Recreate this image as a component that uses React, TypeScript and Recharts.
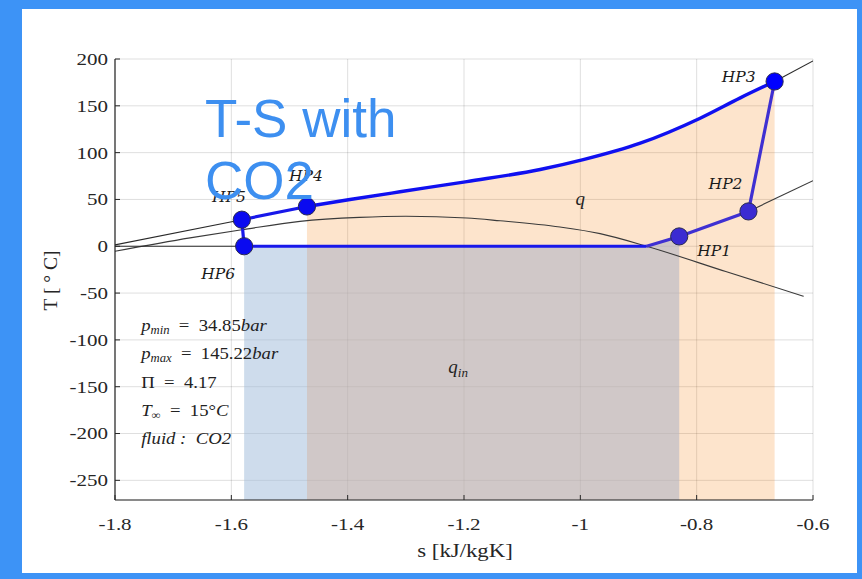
import React from 'react';
import {
  ComposedChart,
  XAxis,
  YAxis,
  CartesianGrid,
  Line,
  Area,
  Scatter,
  ReferenceDot,
} from 'recharts';

// ---------- axes ----------
const S_DOMAIN: [number, number] = [-1.8, -0.6];
const T_DOMAIN: [number, number] = [-271, 200];
const sTicks = [-1.8, -1.6, -1.4, -1.2, -1.0, -0.8, -0.6];
const sTickLabels = ['-1.8', '-1.6', '-1.4', '-1.2', '-1', '-0.8', '-0.6'];
const tTicks = [200, 150, 100, 50, 0, -50, -100, -150, -200, -250];
const tTickLabels = ['200', '150', '100', '50', '0', '-50', '-100', '-150', '-200', '-250'];

// ---------- cycle state points ----------
const cyclePoints = [
  { name: 'HP1', s: -0.83, T: 10.5 },
  { name: 'HP2', s: -0.711, T: 37.2 },
  { name: 'HP3', s: -0.666, T: 176 },
  { name: 'HP4', s: -1.47, T: 42.5 },
  { name: 'HP5', s: -1.582, T: 28.4 },
  { name: 'HP6', s: -1.578, T: 0 },
];

// high pressure isobar, HP4 -> HP3 (gas cooler)
const highPressureCurve = [
  { s: -1.47, T: 42.5 },
  { s: -1.396, T: 49.9 },
  { s: -1.31, T: 58.2 },
  { s: -1.195, T: 69.1 },
  { s: -1.069, T: 82.0 },
  { s: -0.995, T: 92.5 },
  { s: -0.897, T: 110.1 },
  { s: -0.794, T: 136.8 },
  { s: -0.725, T: 158.5 },
  { s: -0.666, T: 176 },
];

// cycle segments drawn straight
const cycleLeft = [
  { s: -1.47, T: 42.5 },
  { s: -1.582, T: 28.4 },
  { s: -1.578, T: 0 },
  { s: -0.886, T: 0 },
];
const cycleRight = [
  { s: -0.886, T: 0 },
  { s: -0.83, T: 10.5 },
  { s: -0.711, T: 37.2 },
  { s: -0.666, T: 176 },
];

// thin black reference curves
const highIsobarLeft = [
  { s: -1.8, T: 1.5 },
  { s: -1.582, T: 28.4 },
];
const highIsobarRight = [
  { s: -0.666, T: 176 },
  { s: -0.6, T: 198 },
];
const lowIsobarLeft = [
  { s: -1.8, T: 0 },
  { s: -1.578, T: 0 },
];
const lowIsobarRight = [
  { s: -0.711, T: 37.2 },
  { s: -0.6, T: 70 },
];
const saturationDome = [
  { s: -1.8, T: -5.3 },
  { s: -1.671, T: 9 },
  { s: -1.582, T: 17.6 },
  { s: -1.482, T: 26.6 },
  { s: -1.38, T: 30.8 },
  { s: -1.3, T: 32 },
  { s: -1.195, T: 30.2 },
  { s: -1.138, T: 27.2 },
  { s: -1.035, T: 20.5 },
  { s: -0.966, T: 13.5 },
  { s: -0.886, T: 0 },
  { s: -0.75, T: -27 },
  { s: -0.616, T: -53.4 },
];

// shaded heat areas
const heatOutArea = highPressureCurve; // q
const heatInBlueArea = [
  { s: -1.578, T: 0 },
  { s: -1.47, T: 0 },
];
const heatInGrayArea = [
  { s: -1.47, T: 0 },
  { s: -0.886, T: 0 },
  { s: -0.83, T: 10.5 },
];

// annotation anchors
const paramAnchorS = -1.755;
const paramLines = [
  { key: 'pmin', T: -90.7 },
  { key: 'pmax', T: -120.9 },
  { key: 'pi', T: -151.1 },
  { key: 'tinf', T: -181.3 },
  { key: 'fluid', T: -211.5 },
];
const qLabel = { s: -1.0, T: 44.4 };
const qInLabel = { s: -1.227, T: -135.8 };

// ---------- styles ----------
const FRAME_BLUE = '#3d93f6';
const TITLE_BLUE = '#3d8ff0';
const AXIS_COLOR = '#262626';
const SERIF = "'Liberation Serif', 'Times New Roman', serif";
const STRETCH = 1.2;
const pointFill: Record<string, string> = {
  HP1: '#3b2bd2',
  HP2: '#3b2bd2',
  HP3: '#0000ff',
  HP4: '#0a0af0',
  HP5: '#0a0af0',
  HP6: '#0a0af0',
};
const labelPlacement: Record<string, { dx: number; dy: number; anchor: string }> = {
  HP1: { dx: 18, dy: 20, anchor: 'start' },
  HP2: { dx: -6, dy: -22, anchor: 'end' },
  HP3: { dx: -19, dy: 1, anchor: 'end' },
  HP4: { dx: -1, dy: -25, anchor: 'middle' },
  HP5: { dx: 4, dy: -18, anchor: 'end' },
  HP6: { dx: -9, dy: 33, anchor: 'end' },
};

function getPos(props: any) {
  const vb = props && props.viewBox ? props.viewBox : props;
  const x = (vb.x ?? 0) + (vb.width ?? 0) / 2;
  const y = (vb.y ?? 0) + (vb.height ?? 0) / 2;
  return { x, y };
}

const makeTick = (values: number[], labels: string[]) => (props: any) => {
  const { x, y, payload, textAnchor, verticalAnchor } = props;
  const v = payload ? payload.value : 0;
  const idx = values.findIndex((t) => Math.abs(t - v) < 1e-9);
  const label = idx >= 0 ? labels[idx] : String(v);
  const dy = verticalAnchor === 'start' ? '0.71em' : verticalAnchor === 'middle' ? '0.34em' : '0';
  return (
    <text
      transform={`translate(${x},${y}) scale(${STRETCH},1)`}
      x={0}
      y={0}
      dy={dy}
      textAnchor={textAnchor}
      fontFamily={SERIF}
      fontSize={17.5}
      fill={AXIS_COLOR}
    >
      {label}
    </text>
  );
};
const sTick = makeTick(sTicks, sTickLabels);
const tTick = makeTick(tTicks, tTickLabels);

const makePointLabel = (name: string) => (props: any) => {
  const { x, y } = getPos(props);
  const p = labelPlacement[name];
  return (
    <text
      x={x + p.dx}
      y={y + p.dy}
      textAnchor={p.anchor as any}
      fontFamily="'DejaVu Serif', serif"
      fontStyle="italic"
      fontSize={15.5}
      fill="#1a1a1a"
    >
      {name}
    </text>
  );
};

const sub = { fontSize: 11.5, fontStyle: 'italic' as const };
const renderParam = (key: string) => (props: any) => {
  const { x, y } = getPos(props);
  const common = {
    x: 0,
    y: 0,
    transform: `translate(${x},${y}) scale(1.1,1)`,
    fontFamily: SERIF,
    fontSize: 17,
    fill: '#222',
  };
  if (key === 'pmin' || key === 'pmax') {
    const subText = key === 'pmin' ? 'min' : 'max';
    const val = key === 'pmin' ? '34.85' : '145.22';
    return (
      <text {...common}>
        <tspan fontStyle="italic">p</tspan>
        <tspan {...sub} dy={3}>{subText}</tspan>
        <tspan dy={-3}>{'\u2002=\u2002' + val}</tspan>
        <tspan fontStyle="italic">bar</tspan>
      </text>
    );
  }
  if (key === 'pi') {
    return <text {...common}>{'\u03A0\u2002=\u20024.17'}</text>;
  }
  if (key === 'tinf') {
    return (
      <text {...common}>
        <tspan fontStyle="italic">T</tspan>
        <tspan fontSize={11.5} dy={3}>{'\u221E'}</tspan>
        <tspan dy={-3}>{'\u2002=\u200215\u00B0'}</tspan>
        <tspan fontStyle="italic">C</tspan>
      </text>
    );
  }
  return (
    <text {...common} fontStyle="italic">
      {'fluid :\u2002CO2'}
    </text>
  );
};

const renderQ = (props: any) => {
  const { x, y } = getPos(props);
  return (
    <text x={x} y={y} textAnchor="middle" fontFamily={SERIF} fontStyle="italic" fontSize={19} fill="#222">
      q
    </text>
  );
};
const renderQin = (props: any) => {
  const { x, y } = getPos(props);
  return (
    <text x={x} y={y} fontFamily={SERIF} fontStyle="italic" fontSize={19} fill="#222">
      q
      <tspan fontSize={13} dy={4}>in</tspan>
    </text>
  );
};

const renderYLabel = (props: any) => {
  const vb = props && props.viewBox ? props.viewBox : { x: 55, y: 59, width: 60, height: 441 };
  const x = vb.x - 5;
  const y = vb.y + vb.height / 2 + 1;
  return (
    <text
      x={x}
      y={y}
      transform={`rotate(-90 ${x} ${y})`}
      textAnchor="middle"
      dominantBaseline="central"
      fontFamily={SERIF}
      fontSize={19.5}
      fill={AXIS_COLOR}
    >
      {'T [ \u00B0 C]'}
    </text>
  );
};

const renderXLabel = (props: any) => {
  const vb = props && props.viewBox ? props.viewBox : { x: 115, y: 500, width: 698, height: 31 };
  const x = vb.x + vb.width / 2 + 1;
  const y = vb.y + vb.height + 26;
  return (
    <text
      transform={`translate(${x},${y}) scale(${STRETCH},1)`}
      x={0}
      y={0}
      textAnchor="middle"
      fontFamily={SERIF}
      fontSize={19}
      fill={AXIS_COLOR}
    >
      s [kJ/kgK]
    </text>
  );
};

const renderPoint = (props: any) => {
  const name = props.payload ? props.payload.name : '';
  return (
    <circle
      cx={props.cx}
      cy={props.cy}
      r={8.6}
      fill={pointFill[name] || '#0000ff'}
      stroke="#2a2a50"
      strokeWidth={1}
    />
  );
};

export default function App() {
  return (
    <div
      style={{
        position: 'absolute',
        left: 0,
        top: 0,
        width: 862,
        height: 579,
        background: FRAME_BLUE,
        overflow: 'hidden',
      }}
    >
      <div
        style={{
          position: 'absolute',
          left: 22,
          top: 9,
          width: 835,
          height: 564,
          background: '#ffffff',
        }}
      />
      <div style={{ position: 'absolute', left: 0, top: 0 }}>
        <ComposedChart
          width={862}
          height={579}
          margin={{ top: 59, right: 49, bottom: 48, left: 55 }}
        >
          <XAxis
            dataKey="s"
            type="number"
            domain={S_DOMAIN}
            ticks={sTicks}
            allowDataOverflow
            tick={sTick}
            tickSize={-5}
            tickMargin={23}
            height={31}
            axisLine={{ stroke: AXIS_COLOR, strokeWidth: 1.2 }}
            tickLine={{ stroke: AXIS_COLOR }}
            label={renderXLabel}
          />
          <XAxis
            xAxisId="top"
            dataKey="s"
            orientation="top"
            type="number"
            domain={S_DOMAIN}
            ticks={sTicks}
            allowDataOverflow
            tickFormatter={() => ''}
            tickSize={-5}
            height={0}
            axisLine={{ stroke: AXIS_COLOR, strokeWidth: 1.2 }}
            tickLine={{ stroke: AXIS_COLOR }}
          />
          <YAxis
            type="number"
            domain={T_DOMAIN}
            ticks={tTicks}
            allowDataOverflow
            tick={tTick}
            tickSize={-5}
            tickMargin={12}
            width={60}
            axisLine={{ stroke: AXIS_COLOR, strokeWidth: 1.2 }}
            tickLine={{ stroke: AXIS_COLOR }}
            label={renderYLabel}
          />
          <YAxis
            yAxisId="right"
            orientation="right"
            type="number"
            domain={T_DOMAIN}
            ticks={tTicks}
            allowDataOverflow
            tickFormatter={() => ''}
            tickSize={-5}
            width={0}
            axisLine={{ stroke: AXIS_COLOR, strokeWidth: 1.2 }}
            tickLine={{ stroke: AXIS_COLOR }}
          />

          <CartesianGrid stroke="rgba(0,0,0,0.13)" strokeWidth={1} fill="none" />

          <Area
            data={heatOutArea}
            dataKey="T"
            type="monotone"
            baseValue={T_DOMAIN[0]}
            stroke="none"
            fill="rgb(245,120,0)"
            fillOpacity={0.2}
            isAnimationActive={false}
            dot={false}
            activeDot={false}
          />
          <Area
            data={heatInGrayArea}
            dataKey="T"
            type="linear"
            baseValue={T_DOMAIN[0]}
            stroke="none"
            fill="rgb(178,181,197)"
            fillOpacity={0.6}
            isAnimationActive={false}
            dot={false}
            activeDot={false}
          />
          <Area
            data={heatInBlueArea}
            dataKey="T"
            type="linear"
            baseValue={T_DOMAIN[0]}
            stroke="none"
            fill="rgb(157,185,217)"
            fillOpacity={0.5}
            isAnimationActive={false}
            dot={false}
            activeDot={false}
          />

          <Line data={saturationDome} dataKey="T" type="monotone" stroke="#3a3a3a" strokeWidth={1.1} dot={false} activeDot={false} isAnimationActive={false} />
          <Line data={highIsobarLeft} dataKey="T" type="linear" stroke="#2a2a2a" strokeWidth={1.1} dot={false} activeDot={false} isAnimationActive={false} />
          <Line data={highIsobarRight} dataKey="T" type="linear" stroke="#2a2a2a" strokeWidth={1.1} dot={false} activeDot={false} isAnimationActive={false} />
          <Line data={lowIsobarLeft} dataKey="T" type="linear" stroke="#2a2a2a" strokeWidth={1.1} dot={false} activeDot={false} isAnimationActive={false} />
          <Line data={lowIsobarRight} dataKey="T" type="linear" stroke="#3a3a3a" strokeWidth={1.1} dot={false} activeDot={false} isAnimationActive={false} />

          <Line data={highPressureCurve} dataKey="T" type="monotone" stroke="#1010f0" strokeWidth={3.4} dot={false} activeDot={false} isAnimationActive={false} />
          <Line data={cycleLeft} dataKey="T" type="linear" stroke="#1818ea" strokeWidth={3.2} dot={false} activeDot={false} isAnimationActive={false} />
          <Line data={cycleRight} dataKey="T" type="linear" stroke="#3f30d2" strokeWidth={3.2} dot={false} activeDot={false} isAnimationActive={false} />

          <Scatter data={cyclePoints} dataKey="T" shape={renderPoint} isAnimationActive={false} />

          {cyclePoints.map((p) => (
            <ReferenceDot
              key={p.name}
              x={p.s}
              y={p.T}
              r={0}
              fill="none"
              stroke="none"
              label={makePointLabel(p.name)}
            />
          ))}
          {paramLines.map((l) => (
            <ReferenceDot
              key={l.key}
              x={paramAnchorS}
              y={l.T}
              r={0}
              fill="none"
              stroke="none"
              label={renderParam(l.key)}
            />
          ))}
          <ReferenceDot x={qLabel.s} y={qLabel.T} r={0} fill="none" stroke="none" label={renderQ} />
          <ReferenceDot x={qInLabel.s} y={qInLabel.T} r={0} fill="none" stroke="none" label={renderQin} />
        </ComposedChart>
      </div>
      <div
        style={{
          position: 'absolute',
          left: 205,
          top: 88,
          fontFamily: "'Liberation Sans', Arial, sans-serif",
          fontSize: 53,
          lineHeight: '62px',
          color: TITLE_BLUE,
          whiteSpace: 'pre',
          pointerEvents: 'none',
        }}
      >
        {'T-S with\nCO2'}
      </div>
    </div>
  );
}
